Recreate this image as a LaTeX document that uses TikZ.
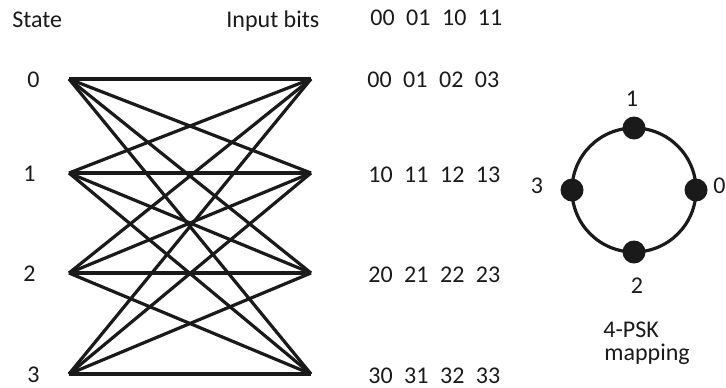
\documentclass[tikz,border=0pt]{standalone}
\usepackage{fontspec}
\setmainfont{Carlito}
\usetikzlibrary{positioning}
\definecolor{trellisBlack}{HTML}{1A1A1A}
\newcommand{\pairrow}[4]{#1\hspace{0.48em}#2\hspace{0.48em}#3\hspace{0.48em}#4}

\begin{document}
\begin{tikzpicture}[x=0.5pt, y=-0.5pt,
  every node/.style={font=\fontsize{12}{14}\selectfont, text=trellisBlack, inner sep=0pt},
  txt/.style={anchor=base west},
  ctxt/.style={anchor=base},
  branch/.style={draw=trellisBlack, line width=1.6pt},
  ring/.style={draw=trellisBlack, line width=1.6pt},
  dot/.style={circle, fill=trellisBlack, minimum size=11.5pt, inner sep=0pt}
]
\useasboundingbox (0,0) rectangle (726,387);

% headings
\node[txt] (hstate) at (12,27) {State};
\node[txt] (hbits) at (226,27) {Input bits};
\node[txt] (hpairs) at (370,25) {\pairrow{00}{01}{10}{11}};

% trellis states
\foreach \i/\y/\lx in {0/79/27, 1/173/23, 2/273/23, 3/374/27} {
  \coordinate (s\i) at (69,\y);
  \coordinate (t\i) at (311,\y);
  \node[txt] (sl\i) at (\lx,\y+8) {\i};
}
\foreach \i in {0,...,3}
  \foreach \j in {0,...,3}
    \draw[branch] (s\i) -- (t\j);

% output symbols
\node[txt] (o0) at (367,87) {\pairrow{00}{01}{02}{03}};
\node[txt] (o1) at (368,182) {\pairrow{10}{11}{12}{13}};
\node[txt] (o2) at (368,282) {\pairrow{20}{21}{22}{23}};
\node[txt] (o3) at (368,383) {\pairrow{30}{31}{32}{33}};

% 4-PSK constellation
\coordinate (c) at (634,190);
\draw[ring] (c) circle[radius=62];
\node[dot] (p0) at ([xshift=62*0.5pt]c) {};
\node[dot] (p1) at ([yshift=62*0.5pt]c) {};
\node[dot] (p3) at ([xshift=-62*0.5pt]c) {};
\node[dot] (p2) at ([yshift=-62*0.5pt]c) {};
\node[ctxt] (n1) at (632,106) {1};
\node[ctxt] (n3) at (537,193) {3};
\node[txt] (n0) at (713,193) {0};
\node[ctxt] (n2) at (637,293) {2};
\node[txt] (cap1) at (603,337) {4-PSK};
\node[txt] (cap2) at (604,360) {mapping};
\end{tikzpicture}
\end{document}
